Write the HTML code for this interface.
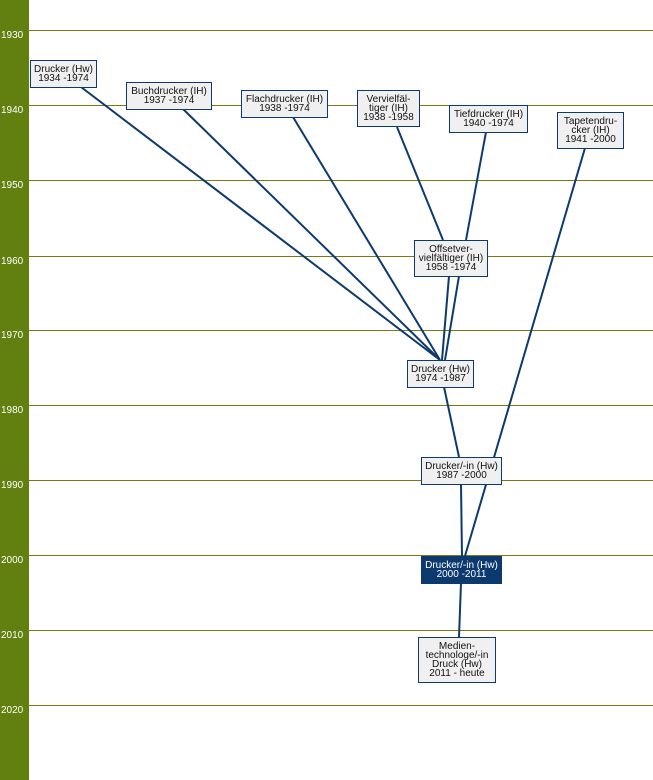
<!DOCTYPE html>
<html><head><meta charset="utf-8"><style>
body{margin:0;width:653px;height:780px;position:relative;background:#fff;font-family:"Liberation Sans",sans-serif;overflow:hidden}
.side{position:absolute;left:0;top:0;width:29px;height:780px;background:#62800f}
.yr{position:absolute;left:1px;color:#fff;font-size:10px}
.hl{position:absolute;left:29px;right:0;height:1px;background:#7a7a10}
.b{position:absolute;box-sizing:border-box;border:1px solid #0c3a6e;background:#f0f0f0;font-size:10px;line-height:9px;text-align:center;color:#111;display:flex;align-items:center;justify-content:center}
.d{background:#0c3a6e;color:#fff}
svg{position:absolute;left:0;top:0}
</style></head><body>
<div class="side"></div>
<div class="hl" style="top:30px"></div><div class="yr" style="top:30px">1930</div>
<div class="hl" style="top:105px"></div><div class="yr" style="top:105px">1940</div>
<div class="hl" style="top:180px"></div><div class="yr" style="top:180px">1950</div>
<div class="hl" style="top:256px"></div><div class="yr" style="top:256px">1960</div>
<div class="hl" style="top:330px"></div><div class="yr" style="top:330px">1970</div>
<div class="hl" style="top:405px"></div><div class="yr" style="top:405px">1980</div>
<div class="hl" style="top:480px"></div><div class="yr" style="top:480px">1990</div>
<div class="hl" style="top:555px"></div><div class="yr" style="top:555px">2000</div>
<div class="hl" style="top:630px"></div><div class="yr" style="top:630px">2010</div>
<div class="hl" style="top:705px"></div><div class="yr" style="top:705px">2020</div>
<svg width="653" height="780"><g stroke="#0c3a6e" stroke-width="2" fill="none">
<line x1="81" y1="87" x2="440" y2="360"/>
<line x1="183" y1="109" x2="440" y2="360"/>
<line x1="293" y1="117" x2="440" y2="360"/>
<line x1="397" y1="127" x2="443" y2="240"/>
<line x1="486" y1="132" x2="466" y2="240"/>
<line x1="449" y1="276" x2="442" y2="360"/>
<line x1="459" y1="276" x2="445" y2="360"/>
<line x1="444" y1="387" x2="459" y2="457"/>
<line x1="585" y1="148" x2="465" y2="556"/>
<line x1="461" y1="484" x2="462" y2="556"/>
<line x1="461" y1="583" x2="459" y2="637"/>
</g></svg>
<div class="b" style="left:30px;top:60px;width:67px;height:28px">Drucker (Hw)<br>1934 -1974</div>
<div class="b" style="left:126px;top:82px;width:86px;height:28px">Buchdrucker (IH)<br>1937 -1974</div>
<div class="b" style="left:241px;top:90px;width:87px;height:28px">Flachdrucker (IH)<br>1938 -1974</div>
<div class="b" style="left:357px;top:90px;width:63px;height:37px">Vervielfäl-<br>tiger (IH)<br>1938 -1958</div>
<div class="b" style="left:449px;top:105px;width:79px;height:28px">Tiefdrucker (IH)<br>1940 -1974</div>
<div class="b" style="left:557px;top:112px;width:67px;height:37px">Tapetendru-<br>cker (IH)<br>1941 -2000</div>
<div class="b" style="left:414px;top:240px;width:74px;height:37px">Offsetver-<br>vielfältiger (IH)<br>1958 -1974</div>
<div class="b" style="left:407px;top:360px;width:67px;height:28px">Drucker (Hw)<br>1974 -1987</div>
<div class="b" style="left:421px;top:457px;width:81px;height:28px">Drucker/-in (Hw)<br>1987 -2000</div>
<div class="b d" style="left:421px;top:556px;width:81px;height:28px">Drucker/-in (Hw)<br>2000 -2011</div>
<div class="b" style="left:418px;top:637px;width:78px;height:46px">Medien-<br>technologe/-in<br>Druck (Hw)<br>2011 - heute</div>
</body></html>
